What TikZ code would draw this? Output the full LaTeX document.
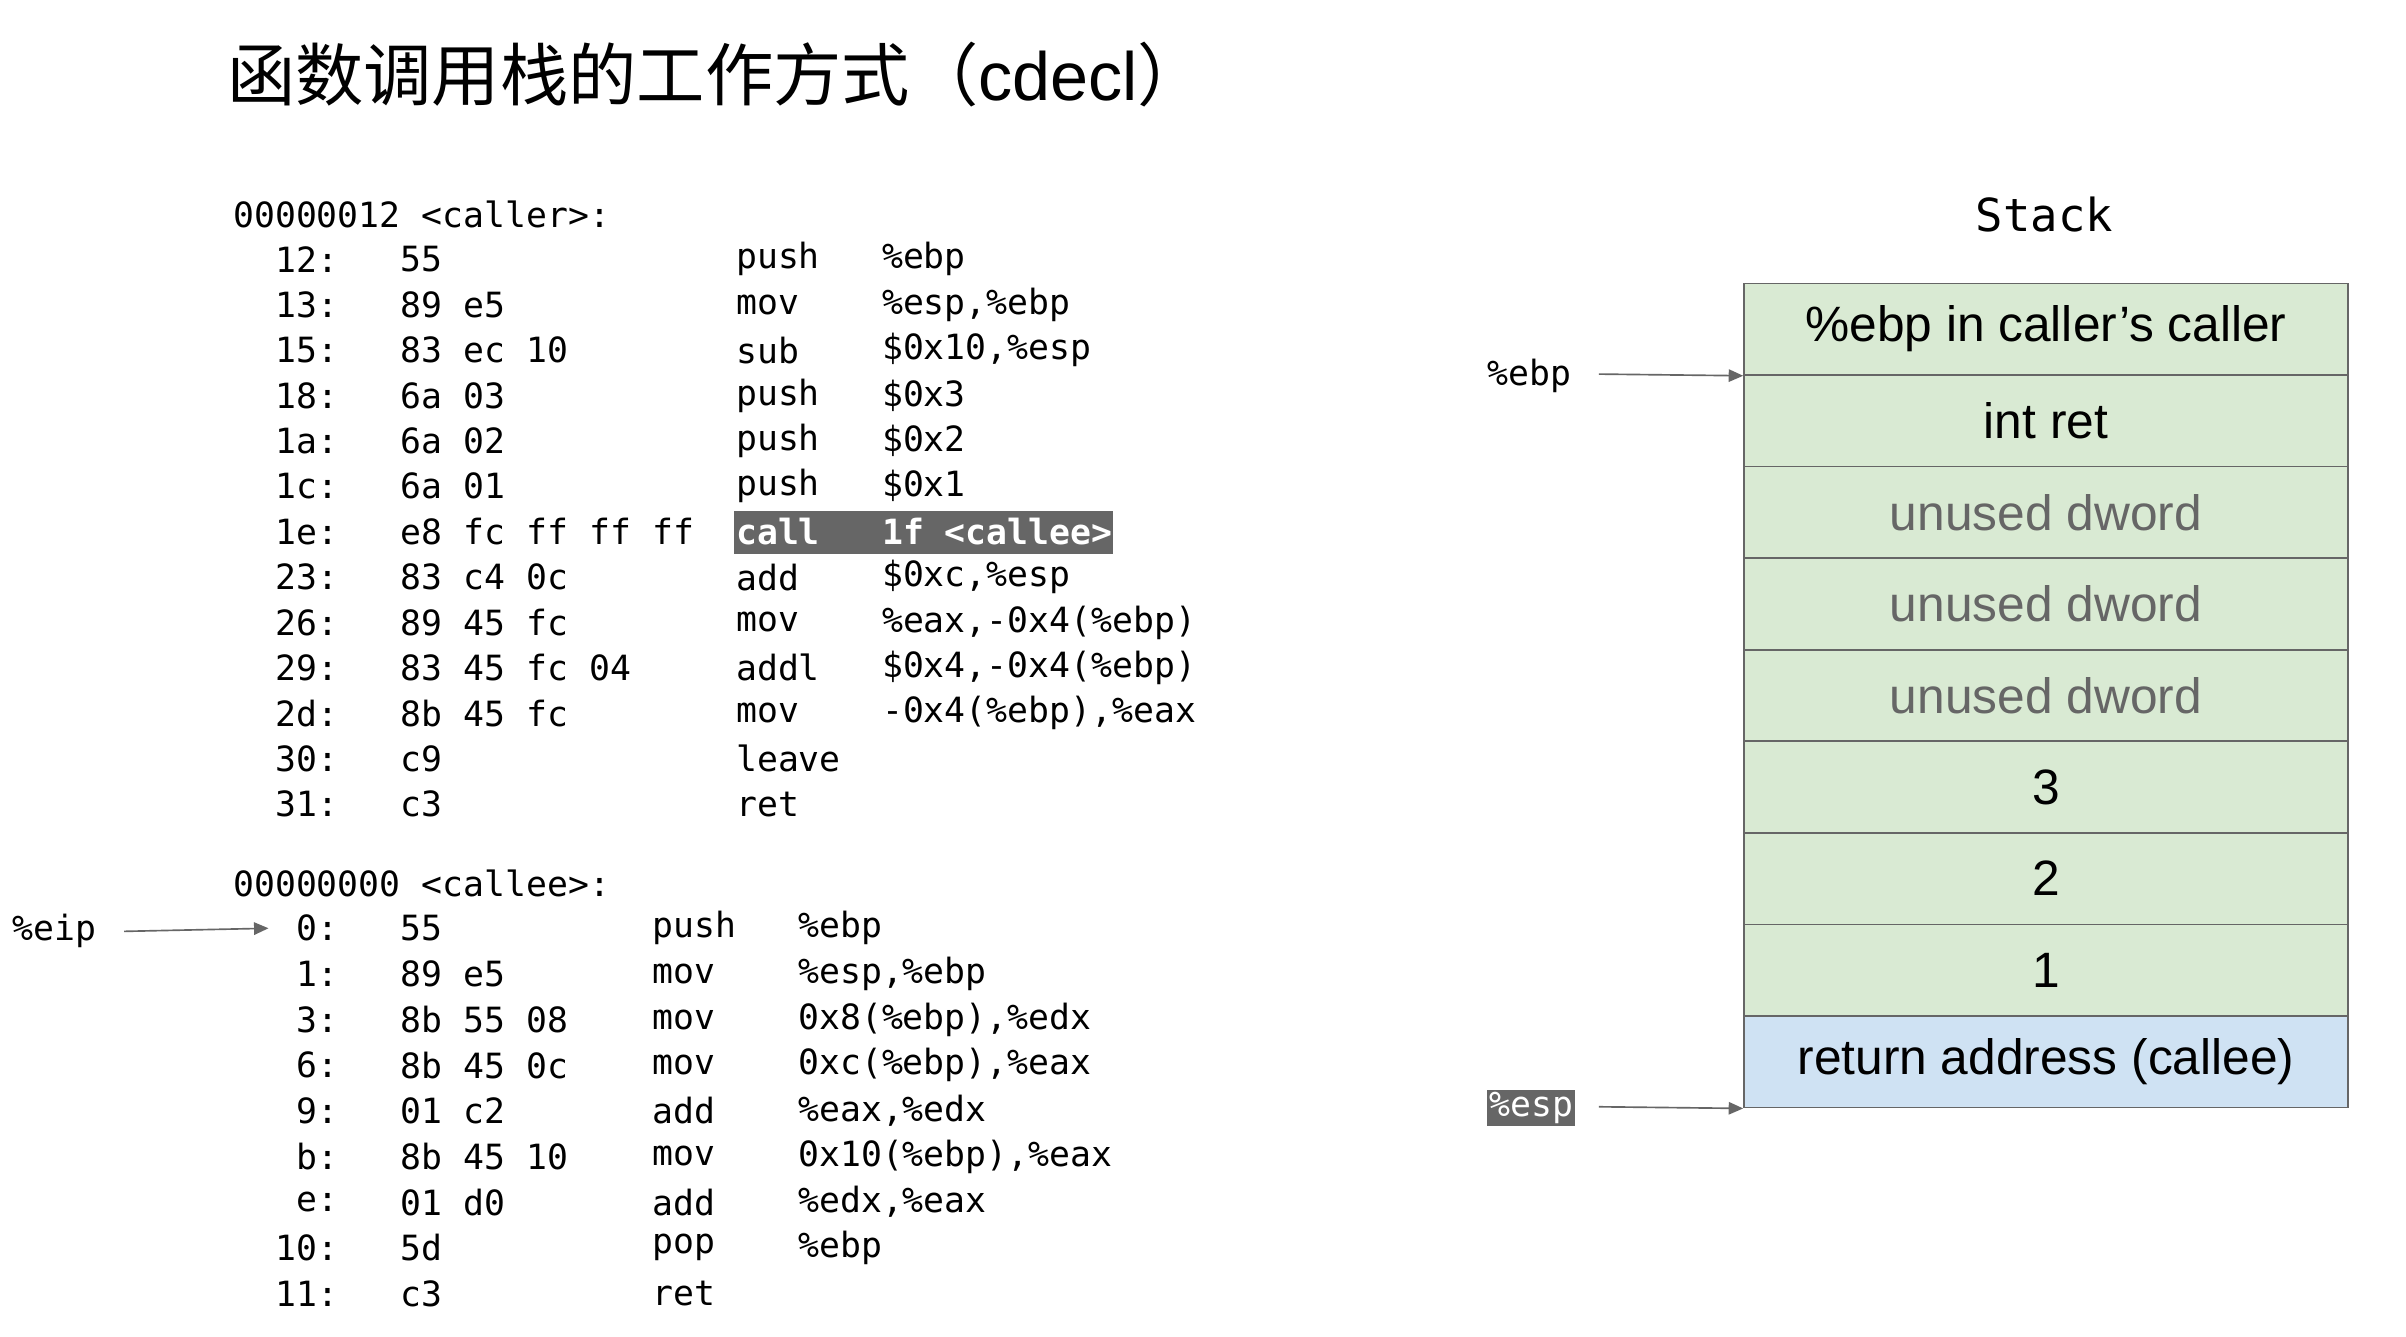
\documentclass[tikz,border=0pt]{standalone}
\usepackage{fontspec}
\setmainfont{Liberation Sans}
\setmonofont{DejaVu Sans Mono}
\newfontfamily\cjk{Noto Sans CJK SC}
\usetikzlibrary{arrows.meta}
\definecolor{stgreen}{HTML}{D9EAD3}
\definecolor{stblue}{HTML}{CFE2F3}
\definecolor{hl}{HTML}{666666}
\tikzset{
 x=0.75pt,y=-0.75pt,
 code/.style={font=\ttfamily\fontsize{16.8}{18}\selectfont,anchor=west,inner sep=0pt},
 addr/.style={font=\ttfamily\fontsize{16.8}{18}\selectfont,anchor=east,inner sep=0pt},
 cell/.style={draw=hl,line width=0.8pt,minimum width=389*0.75pt,minimum height=59*0.75pt,inner sep=0pt,anchor=north west,font=\fontsize{24}{28}\selectfont},
 ptr/.style={draw=hl,line width=0.8pt,-{Triangle[length=7pt,width=6pt]}},
}
\begin{document}
\begin{tikzpicture}
\fill[white] (0,0) rectangle (1550,861);
\useasboundingbox (0,0) rectangle (1550,861);
\node[anchor=west,inner sep=0pt,font=\fontsize{33}{36}\selectfont] (title) at (146,48) {{\cjk 函数调用栈的工作方式（}cdecl{\cjk ）}};
% caller
\node[code] (h1) at (150,138) {00000012 <caller>:};
\fill[hl] (473,329) rectangle (717,357);
\foreach \a/\b/\m/\o [count=\i] in {
 12/55/push/\%ebp, 13/89 e5/mov/{\%esp,\%ebp}, 15/83 ec 10/sub/{\$0x10,\%esp},
 18/6a 03/push/\$0x3, 1a/6a 02/push/\$0x2, 1c/6a 01/push/\$0x1,
 1e/e8 fc ff ff ff/call/1f <callee>, 23/83 c4 0c/add/{\$0xc,\%esp},
 26/89 45 fc/mov/{\%eax,-0x4(\%ebp)}, 29/83 45 fc 04/addl/{\$0x4,-0x4(\%ebp)},
 2d/8b 45 fc/mov/{-0x4(\%ebp),\%eax}, 30/c9/leave/{}, 31/c3/ret/{}}{
 \pgfmathsetmacro\yy{167+(\i-1)*29.25}
 \node[addr] (ca\i) at (218,\yy) {\a:};
 \node[code] (cb\i) at (258,\yy) {\b};
 \ifnum\i=7
  \node[code,text=white,font=\ttfamily\bfseries\fontsize{16.8}{18}\selectfont] (cm\i) at (474,\yy) {\m};
  \node[code,text=white,font=\ttfamily\bfseries\fontsize{16.8}{18}\selectfont] (co\i) at (568,\yy) {\o};
 \else
  \node[code] (cm\i) at (474,\yy) {\m};
  \node[code] (co\i) at (568,\yy) {\o};
 \fi
}
% callee
\node[code] (h2) at (150,569) {00000000 <callee>:};
\foreach \a/\b/\m/\o [count=\i] in {
 0/55/push/\%ebp, 1/89 e5/mov/{\%esp,\%ebp}, 3/8b 55 08/mov/{0x8(\%ebp),\%edx},
 6/8b 45 0c/mov/{0xc(\%ebp),\%eax}, 9/01 c2/add/{\%eax,\%edx},
 b/8b 45 10/mov/{0x10(\%ebp),\%eax}, e/01 d0/add/{\%edx,\%eax},
 10/5d/pop/\%ebp, 11/c3/ret/{}}{
 \pgfmathsetmacro\yy{598+(\i-1)*29.4}
 \node[addr] (ea\i) at (218,\yy) {\a:};
 \node[code] (eb\i) at (258,\yy) {\b};
 \node[code] (em\i) at (420,\yy) {\m};
 \node[code] (eo\i) at (514,\yy) {\o};
}
\node[code] (eip) at (8,600) {\%eip};
\coordinate (eipS) at (80,600);
\coordinate (eipE) at (173,598);
\draw[ptr] (eipS) -- (eipE);
% stack
\node[font=\ttfamily\fontsize{22}{24}\selectfont,inner sep=0pt] (stack) at (1317,138) {Stack};
\foreach \t/\c/\f [count=\i] in {
 {\%ebp in caller's caller}/stgreen/black, int ret/stgreen/black,
 unused dword/stgreen/hl, unused dword/stgreen/hl, unused dword/stgreen/hl,
 3/stgreen/black, 2/stgreen/black, 1/stgreen/black,
 return address (callee)/stblue/black}{
 \node[cell,fill=\c,text=\f] (s\i) at (1123,{182+(\i-1)*59}) {\t};
}
\node[code] (ebp) at (958,242) {\%ebp};
\coordinate (ebpS) at (1030,241);
\draw[ptr] (ebpS) -- (s1.south west);
\node[code,fill=hl,text=white,inner sep=1pt] (esp) at (958,714) {\%esp};
\coordinate (espS) at (1030,713);
\draw[ptr] (espS) -- (s9.south west);
\end{tikzpicture}
\end{document}
